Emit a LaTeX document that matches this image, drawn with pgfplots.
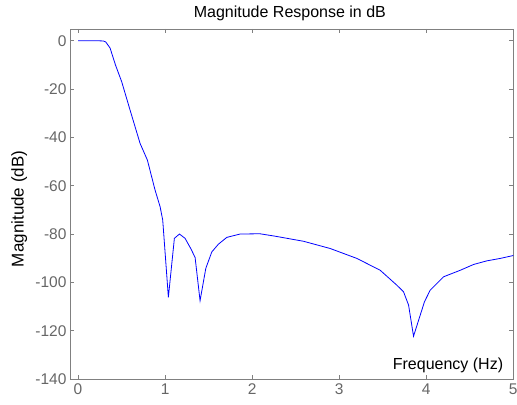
\documentclass[border=0pt]{standalone}
\usepackage{fontspec}
\setmainfont{Liberation Sans}
\usepackage{pgfplots}
\pgfplotsset{compat=1.18}
\definecolor{axgray}{HTML}{808080}
\definecolor{lblgray}{HTML}{666666}
\begin{document}
\begin{tikzpicture}
\begin{axis}[
  name=ax,
  scale only axis,
  width=443.3pt, height=350pt,
  xmin=-0.092, xmax=5, ymin=-140, ymax=4.85,
  axis line style={axgray, line width=0.8pt},
  tick style={axgray, line width=0.8pt},
  tick align=inside,
  major tick length=4pt,
  xtick={0,1,2,3,4,5},
  xticklabels={0,1,2,3,4,5},
  ytick={0,-20,-40,-60,-80,-100,-120,-140},
  yticklabels={0,-20,-40,-60,-80,-100,-120,-140},
  tick label style={font=\fontsize{15.5}{16}\selectfont, text=lblgray},
  xticklabel style={yshift=-1pt},
  every axis title shift=0pt,
  title={Magnitude Response in dB},
  title style={at={(axis description cs:0.496,1.0334)}, anchor=base, font=\fontsize{16}{18}\selectfont, inner sep=0pt},
  xlabel={Frequency (Hz)},
  xlabel style={at={(axis description cs:0.9775,0.0257)}, anchor=base east, font=\fontsize{16}{18}\selectfont, inner sep=0pt},
  ylabel={Magnitude (dB)},
  ylabel style={at={(axis description cs:-0.1144,0.486)}, anchor=center, font=\fontsize{17}{18}\selectfont, inner sep=0pt},
]
\addplot[color=blue, line width=0.8pt, mark=none] coordinates {
(0,0) (0.1,0) (0.2,0) (0.29,-0.1) (0.318,-0.5) (0.368,-3) (0.43,-10) (0.502,-17)
(0.598,-28.7) (0.713,-42.5) (0.797,-49.4) (0.885,-61.8) (0.943,-68.7) (0.973,-74.2)
(1.038,-106.2) (1.107,-81.8) (1.165,-80) (1.23,-81.8) (1.295,-86) (1.345,-89.7)
(1.402,-107.6) (1.468,-94.2) (1.537,-87.4) (1.613,-84.2) (1.709,-81.4) (1.862,-80)
(2.09,-79.9) (2.264,-80.9) (2.59,-83) (2.897,-86) (3.203,-90.1) (3.471,-95)
(3.663,-101.2) (3.739,-103.9) (3.797,-109.4) (3.854,-122.3) (3.98,-108) (4.046,-103.2)
(4.199,-97.7) (4.391,-95) (4.544,-92.6) (4.697,-91.1) (4.85,-90.1) (5,-88.9)
};
\end{axis}
\pgfresetboundingbox
\path[use as bounding box] ([xshift=-70pt,yshift=-26pt]ax.south west) rectangle ([xshift=3.7pt,yshift=29pt]ax.north east);
\end{tikzpicture}
\end{document}
